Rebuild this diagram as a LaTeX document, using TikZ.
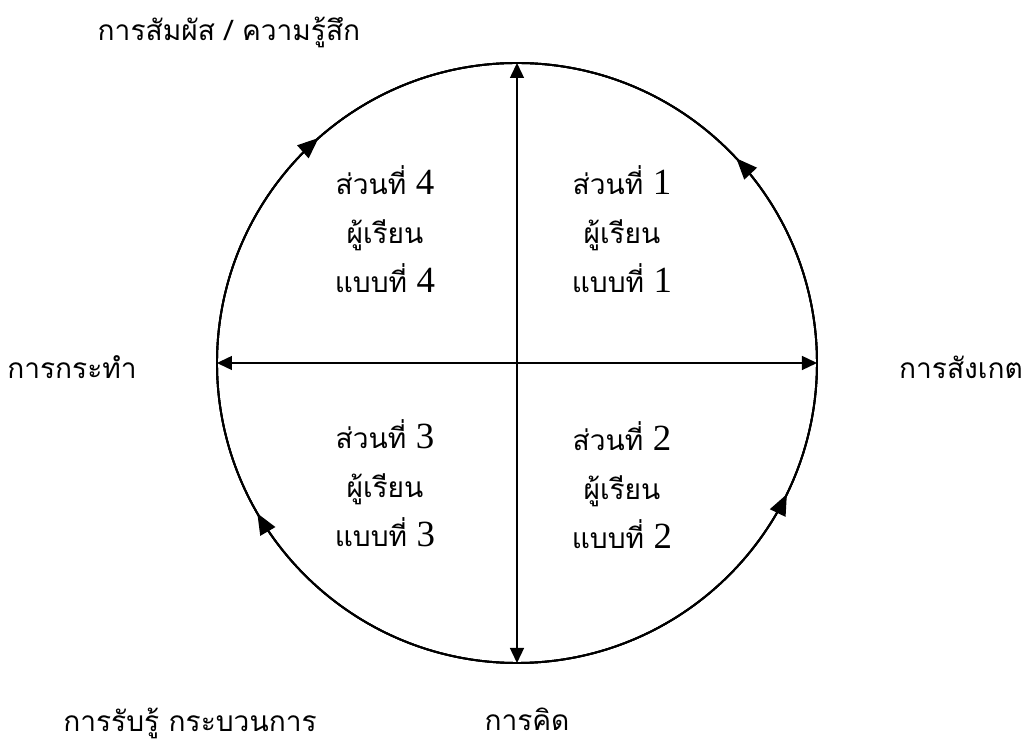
\documentclass[tikz,border=0pt]{standalone}
\usepackage{fontspec}
\setmainfont{Liberation Serif}
\newfontfamily\thaifont[Script=Thai]{Loma}
\usetikzlibrary{arrows.meta,decorations.markings}
\tikzset{
  ring/.style={line width=1.1pt},
  axis/.style={{Triangle[length=3mm,width=2.8mm]}-{Triangle[length=3mm,width=2.8mm]},line width=0.8pt},
  flow/.style={postaction={decorate},decoration={markings,
    mark=at position #1 with {\arrow{Triangle[length=4.2mm,width=3.4mm]}}}},
  pole/.style={font=\thaifont\fontsize{16}{19}\selectfont,inner sep=0pt},
  quarter/.style={align=center,inner sep=0pt,font=\thaifont\fontsize{16}{28}\selectfont}
}
\newcommand{\qnum}[1]{{\normalfont\fontsize{21}{22}\selectfont #1}}
\begin{document}
\begin{tikzpicture}
\useasboundingbox (-10.34,-7.58) rectangle (10.14,7.26);
% ---------- circle and axes ----------
\coordinate (c) at (0,0);
\coordinate (top) at (90:6);
\coordinate (bot) at (-90:6);
\coordinate (lft) at (180:6);
\coordinate (rgt) at (0:6);
\draw[ring] (c) circle (6);
\draw[ring,flow=0.356] (bot) arc (-90:90:6);
\draw[ring,flow=0.739] (bot) arc (-90:90:6);
\draw[ring,flow=0.333] (bot) arc (270:90:6);
\draw[ring,flow=0.770] (bot) arc (270:90:6);
\draw[axis] (bot) -- (top);
\draw[axis] (lft) -- (rgt);
% ---------- poles ----------
\node[pole] (feel) at (-5.76,6.62) {การสัมผัส / ความรู้สึก};
\node[pole] (watch) at (8.88,-0.08) {การสังเกต};
\node[pole] (act) at (-8.9,-0.08) {การกระทำ};
\node[pole] (think) at (0.2,-7.12) {การคิด};
\node[pole] (perc) at (-6.54,-7.2) {การรับรู้ กระบวนการ};
% ---------- quarters ----------
\node[quarter] (q1) at (2.1,2.68) {ส่วนที่ \qnum{1}\\ผู้เรียน\\แบบที่ \qnum{1}};
\node[quarter] (q2) at (2.1,-2.44) {ส่วนที่ \qnum{2}\\ผู้เรียน\\แบบที่ \qnum{2}};
\node[quarter] (q3) at (-2.64,-2.4) {ส่วนที่ \qnum{3}\\ผู้เรียน\\แบบที่ \qnum{3}};
\node[quarter] (q4) at (-2.64,2.68) {ส่วนที่ \qnum{4}\\ผู้เรียน\\แบบที่ \qnum{4}};
\end{tikzpicture}
\end{document}
